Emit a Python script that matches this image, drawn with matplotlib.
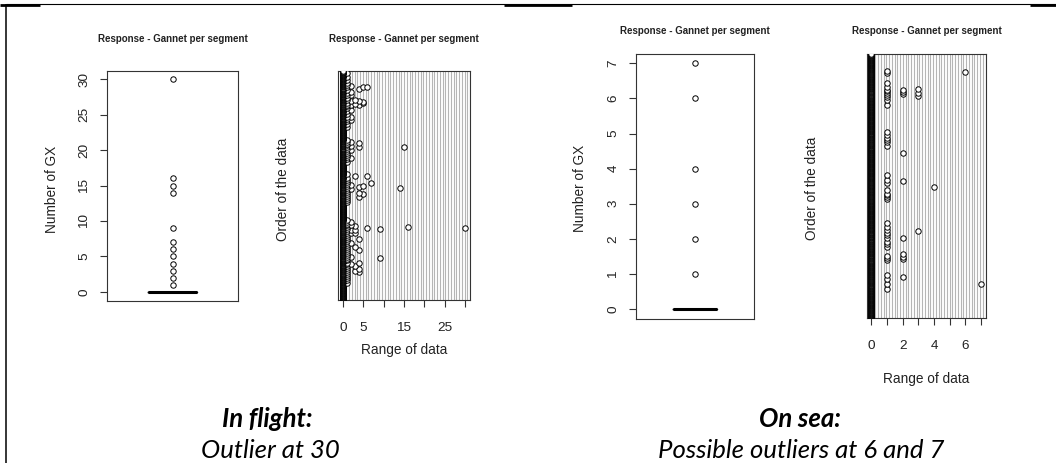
import numpy as np
import matplotlib
matplotlib.use("Agg")
import matplotlib.pyplot as plt
from matplotlib.lines import Line2D

# ---------------- data ----------------
# In flight: number of gannets per segment (most segments are 0)
N_FLIGHT = 1000
flight_at_1 = [990, 975, 962, 950, 941, 930, 918, 905, 897, 884, 872, 861, 853, 846, 838,
               825, 812, 801, 790, 781, 770, 757, 700, 692, 683, 676, 669, 661, 652, 644,
               633, 625, 615, 605, 549, 541, 533, 523, 515, 508, 498, 490, 481, 473, 464,
               455, 447, 438, 429, 350, 342, 334, 326, 318, 309, 300, 292, 283, 275, 266,
               258, 249, 240, 232, 224, 215, 207, 198, 190, 181, 173, 164, 156, 147, 139,
               130, 122, 113, 105, 96, 88, 76]
flight_at_2 = [934, 910, 896, 869, 851, 830, 798, 786, 691, 672, 655, 619, 502, 487,
               343, 330, 305, 293, 250, 189, 159]
flight_at_3 = [876, 858, 542, 325, 307, 295, 233, 148, 128]
flight_at_4 = [924, 870, 852, 684, 667, 495, 469, 451, 269, 221, 160, 138, 124]
flight_at_5 = [929, 865, 859, 499, 463]
flight_at_6 = [931, 541, 316]
flight_at_7 = [512]
flight_at_9 = [311, 183]
flight_at_14 = [488]
flight_at_15 = [670]
flight_at_16 = [320]
flight_at_30 = [313]

# On sea
N_SEA = 1000
sea_at_1 = [937, 927, 889, 874, 866, 861, 853, 845, 836, 826, 807, 706, 693, 681, 674,
            668, 652, 542, 525, 510, 497, 487, 472, 466, 460, 453, 359, 346, 333, 323,
            314, 302, 289, 280, 270, 235, 226, 220, 163, 150, 131, 109]
sea_at_2 = [865, 857, 848, 624, 519, 304, 242, 232, 223, 157]
sea_at_3 = [867, 854, 841, 331]
sea_at_4 = [497]
sea_at_6 = [931]
sea_at_7 = [128]

flight_x_ticks = [0, 5, 10, 15, 20, 25, 30]
flight_x_labels = ["0", "5", "", "15", "", "25", ""]
flight_y_ticks = [0, 5, 10, 15, 20, 25, 30]
sea_x_ticks = [0, 1, 2, 3, 4, 5, 6, 7]
sea_x_labels = ["0", "", "2", "", "4", "", "6", ""]
sea_y_ticks = [0, 1, 2, 3, 4, 5, 6, 7]

title_text = "Response - Gannet per segment"
captions = [("In flight:", "Outlier at 30"), ("On sea:", "Possible outliers at 6 and 7")]


def build(n, groups):
    arr = np.zeros(n)
    for value, orders in groups.items():
        arr[np.asarray(orders) - 1] = value
    return arr


flight = build(N_FLIGHT, {1: flight_at_1, 2: flight_at_2, 3: flight_at_3, 4: flight_at_4,
                          5: flight_at_5, 6: flight_at_6, 7: flight_at_7, 9: flight_at_9,
                          14: flight_at_14, 15: flight_at_15, 16: flight_at_16, 30: flight_at_30})
sea = build(N_SEA, {1: sea_at_1, 2: sea_at_2, 3: sea_at_3, 4: sea_at_4, 6: sea_at_6, 7: sea_at_7})

# ---------------- figure ----------------
W, H = 1056, 463
fig = plt.figure(figsize=(W / 100, H / 100), dpi=100)
fig.patch.set_facecolor("white")

RFONT = "Liberation Sans"
TXT = "#222222"
FRAME = "#333333"
MS = 3.9
MEW = 0.7


def add_axes(l, t, r, b):
    return fig.add_axes([l / W, 1 - b / H, (r - l) / W, (b - t) / H])


def ftext(x, y, s, **kw):
    fig.text(x / W, 1 - y / H, s, **kw)


def style(ax):
    for sp in ax.spines.values():
        sp.set_color(FRAME)
        sp.set_linewidth(0.8)
    ax.tick_params(colors=FRAME, labelcolor=TXT, length=5, width=0.8, direction="out",
                   labelsize=9.7)
    for lab in ax.get_xticklabels() + ax.get_yticklabels():
        lab.set_family(RFONT)


def boxpanel(ax, data, yticks, ylim):
    bp = ax.boxplot(data, positions=[1], widths=0.4,
                    flierprops=dict(marker="o", markerfacecolor="white", markeredgecolor="black",
                                    markersize=MS, markeredgewidth=MEW),
                    medianprops=dict(color="black", linewidth=2.2),
                    boxprops=dict(color="black", linewidth=1),
                    whiskerprops=dict(color="black", linewidth=1),
                    capprops=dict(color="black", linewidth=1))
    fl = bp["fliers"][0]
    uy = np.unique(fl.get_ydata())
    fl.set_data(np.full(len(uy), 1.0), uy)
    ax.set_xlim(0.46, 1.54)
    ax.set_ylim(*ylim)
    ax.set_xticks([])
    ax.set_yticks(yticks)
    ax.set_yticklabels([str(t) for t in yticks])
    style(ax)
    ax.tick_params(axis="y", pad=7)
    for lab in ax.get_yticklabels():
        lab.set_rotation(90)
        lab.set_va("center")


def dotpanel(ax, data, xticks, xlabels, xlim, width_px):
    nlines = int(round(width_px / 2.7))
    ax.vlines(np.linspace(0, 1, nlines), 0, 1, transform=ax.transAxes,
              colors="#b5b5b5", linewidth=0.8, zorder=1)
    order = np.arange(1, len(data) + 1)
    ax.plot(data, order, linestyle="none", marker="o", markerfacecolor="white",
            markeredgecolor="black", markersize=MS, markeredgewidth=MEW, zorder=3)
    ax.set_xlim(*xlim)
    ax.set_ylim(0.5, len(data) + 0.5)
    ax.set_yticks([])
    ax.set_xticks(xticks)
    ax.set_xticklabels(xlabels)
    style(ax)
    ax.tick_params(axis="x", pad=11)


# In flight
ax1 = add_axes(107, 70.5, 238, 300.5)
boxpanel(ax1, flight, flight_y_ticks, (-1.2, 31.2))
ax2 = add_axes(338, 71, 470, 300)
dotpanel(ax2, flight, flight_x_ticks, flight_x_labels, (-1.2, 31.2), 132)

# On sea
ax3 = add_axes(636, 53.5, 754, 318.8)
boxpanel(ax3, sea, sea_y_ticks, (-0.28, 7.28))
ax4 = add_axes(867, 54, 985.5, 318)
dotpanel(ax4, sea, sea_x_ticks, sea_x_labels, (-0.28, 7.28), 118)

# titles & axis labels
tkw = dict(family=RFONT, fontsize=7, fontweight="bold", color=TXT, ha="center", va="center")
ftext(172.5, 39.5, title_text, **tkw)
ftext(404, 39.5, title_text, **tkw)
ftext(695, 31, title_text, **tkw)
ftext(926.5, 31, title_text, **tkw)

lkw = dict(family=RFONT, fontsize=9.8, color=TXT, ha="center", va="center")
ftext(51.5, 189, "Number of GX", rotation=90, **lkw)
ftext(283, 189, "Order of the data", rotation=90, **lkw)
ftext(580, 188, "Number of GX", rotation=90, **lkw)
ftext(812.5, 188, "Order of the data", rotation=90, **lkw)
ftext(404, 350, "Range of data", **lkw)
ftext(926.5, 379, "Range of data", **lkw)

# captions
ckw = dict(family="Lato", fontsize=18.5, color="black", ha="center", va="center", style="italic")
ftext(267, 419, captions[0][0], fontweight="bold", **ckw)
ftext(270, 450, captions[0][1], **ckw)
ftext(800, 419, captions[1][0], fontweight="bold", **ckw)
ftext(801, 450, captions[1][1], **ckw)

# table borders
def fline(x0, y0, x1, y1, lw):
    fig.add_artist(Line2D([x0 / W, x1 / W], [1 - y0 / H, 1 - y1 / H], color="black",
                          linewidth=lw, transform=fig.transFigure, solid_capstyle="butt"))


fline(6, 4.3, W, 4.3, 0.8)
fline(6, 4, 6, H, 1.1)
fline(0, 5, 40, 5, 2.0)
fline(504, 5, 572, 5, 2.0)
fline(1030, 5, W, 5, 2.0)

fig.savefig("out.png", dpi=100, facecolor="white")
